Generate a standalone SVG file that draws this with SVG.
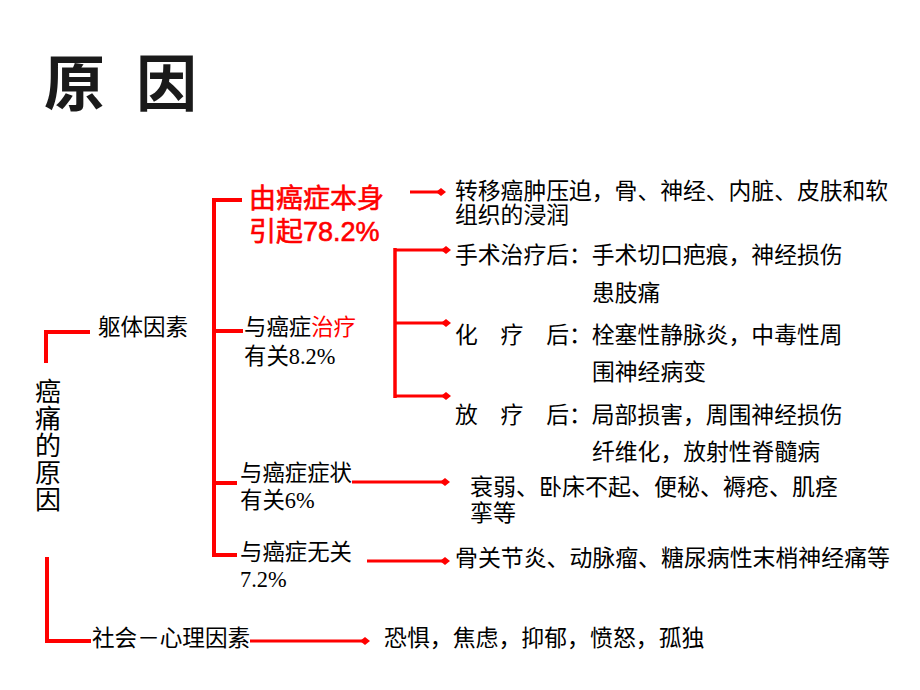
<svg xmlns="http://www.w3.org/2000/svg" width="920" height="690" viewBox="0 0 920 690">
  <defs>
    <marker id="dia" markerUnits="userSpaceOnUse" markerWidth="12" markerHeight="12" refX="6" refY="6" orient="auto">
      <path d="M1,6 L6,2 L11,6 L6,10 Z" fill="#FF0000"/>
    </marker>
    <style>
      .t { font-family: "Liberation Serif", "Noto Sans CJK SC", serif; fill: #000; }
      .title { font-family: "Noto Sans CJK SC", sans-serif; font-weight: bold; font-size: 61px; fill: #1a1a1a; }
      .hl { font-family: "Liberation Sans", "Noto Sans CJK SC", sans-serif; font-size: 27px; fill: #FF0000; stroke: #FF0000; stroke-width: 0.6; }
      .red { fill: #FF0000; }
      .br { fill: none; stroke: #FF0000; stroke-width: 4; }
      .ar { fill: none; stroke: #FF0000; stroke-width: 3; marker-end: url(#dia); }
    </style>
  </defs>
  <rect width="920" height="690" fill="#FFFFFF"/>

  <g id="title">
    <text class="title" x="44" y="106">原</text>
    <text class="title" x="136" y="106">因</text>
  </g>

  <g id="connectors">
    <path class="br" d="M46,363 V332 H90"/>
    <path class="br" d="M47,557 V641 H91"/>
    <path class="br" d="M242,200 H214 V555 H237"/>
    <path class="br" d="M214,331 H243"/>
    <path class="br" d="M214,483 H237"/>
    <path class="ar" d="M395,250 H446"/>
    <path class="ar" d="M395,323 H446"/>
    <path class="ar" d="M395,396 H446"/>
    <path class="br" d="M395,248 V398" style="stroke-width:3.5"/>
    <path class="ar" d="M410,192 H441"/>
    <path class="ar" d="M352,482 H445"/>
    <path class="ar" d="M367,561 H445"/>
    <path class="ar" d="M250,641 H365"/>
  </g>

  <g id="root">
    <text class="t" x="48" y="401" font-size="26" text-anchor="middle">癌</text>
    <text class="t" x="48" y="428" font-size="26" text-anchor="middle">痛</text>
    <text class="t" x="48" y="455" font-size="26" text-anchor="middle">的</text>
    <text class="t" x="48" y="482" font-size="26" text-anchor="middle">原</text>
    <text class="t" x="48" y="509" font-size="26" text-anchor="middle">因</text>
  </g>

  <g id="body-factors">
    <text class="t" x="98" y="335" font-size="22.5">躯体因素</text>
  </g>
  <g id="social-factors">
    <text class="t" x="92" y="646" font-size="22.6">社会－心理因素</text>
  </g>

  <g id="cancer-itself">
    <text class="hl" x="249" y="208">由癌症本身</text>
    <text class="hl" x="249" y="241">引起78.2%</text>
  </g>
  <g id="treatment">
    <text class="t" x="244" y="335" font-size="22.4">与癌症<tspan class="red">治疗</tspan></text>
    <text class="t" x="244" y="364" font-size="22.4">有关8.2%</text>
  </g>
  <g id="symptom">
    <text class="t" x="240" y="481" font-size="22.4">与癌症症状</text>
    <text class="t" x="240" y="508" font-size="22.4">有关6%</text>
  </g>
  <g id="unrelated">
    <text class="t" x="240" y="560" font-size="22.4">与癌症无关</text>
    <text class="t" x="240" y="587" font-size="22.4">7.2%</text>
  </g>

  <g id="metastasis">
    <text class="t" x="455" y="199" font-size="22.8">转移癌肿压迫，骨、神经、内脏、皮肤和软</text>
    <text class="t" x="455" y="223" font-size="22.8">组织的浸润</text>
  </g>
  <g id="surgery">
    <text class="t" x="455" y="263" font-size="22.8">手术治疗后：手术切口疤痕，神经损伤</text>
    <text class="t" x="592" y="301" font-size="22.8">患肢痛</text>
  </g>
  <g id="chemo">
    <text class="t" x="455" y="343" font-size="22.8">化　疗　后：栓塞性静脉炎，中毒性周</text>
    <text class="t" x="592" y="380" font-size="22.8">围神经病变</text>
  </g>
  <g id="radio">
    <text class="t" x="455" y="423" font-size="22.8">放　疗　后：局部损害，周围神经损伤</text>
    <text class="t" x="592" y="460" font-size="22.8">纤维化，放射性脊髓病</text>
  </g>
  <g id="symptom-detail">
    <text class="t" x="470" y="495" font-size="23">衰弱、卧床不起、便秘、褥疮、肌痉</text>
    <text class="t" x="470" y="521" font-size="23">挛等</text>
  </g>
  <g id="unrelated-detail">
    <text class="t" x="455" y="566" font-size="22.9">骨关节炎、动脉瘤、糖尿病性末梢神经痛等</text>
  </g>
  <g id="social-detail">
    <text class="t" x="384" y="646" font-size="22.9">恐惧，焦虑，抑郁，愤怒，孤独</text>
  </g>
</svg>
